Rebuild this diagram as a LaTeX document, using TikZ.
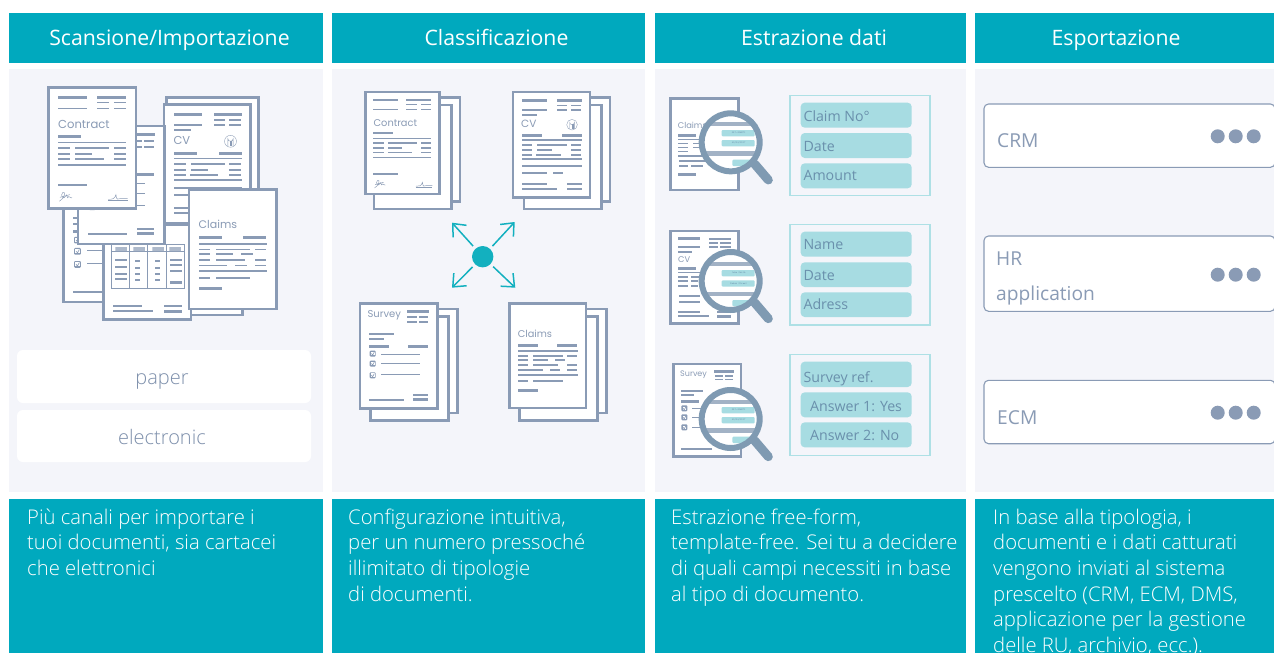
\documentclass[tikz,border=0pt]{standalone}
\usepackage{fontspec}
\setmainfont{Open Sans}
\newfontfamily\lightf{Open Sans Light}
\newfontfamily\gf{Poppins}
\usetikzlibrary{arrows.meta}
\definecolor{teal}{HTML}{00A9BE}
\definecolor{bgc}{HTML}{F4F5FA}
\definecolor{docc}{HTML}{8A9BB5}
\definecolor{hubc}{HTML}{13B0BF}
\definecolor{pill}{HTML}{A7DCE2}
\definecolor{panel}{HTML}{AEE0E5}
\definecolor{pilltx}{HTML}{6A90AC}
\definecolor{lens}{HTML}{7F9AB2}
\definecolor{lensbar}{HTML}{A2B2C5}
\definecolor{boxtx}{HTML}{7D8FAB}
\newcount\tn
\newcommand{\Tx}[4]{\global\advance\tn 1 \node[anchor=west,inner sep=0pt,text=docc,font=\gf\fontsize{#4}{#4}\selectfont] (t\the\tn) at (#1,#2) {#3};}
\newcommand{\lnA}[3]{\fill[docc] (#1,{#3-2.5}) rectangle (#2,{#3+2.5});}
\newcommand{\lnB}[3]{\fill[docc] (#1,{#3-4}) rectangle (#2,{#3+4});}
\newcommand{\lnC}[3]{\fill[docc] (#1,{#3-1.4}) rectangle (#2,{#3+1.4});}
\newcommand{\Sheet}[4]{\filldraw[fill=white,draw=docc,line width=2.4pt] (#1,#2) rectangle (#3,#4);}
\newcommand{\Chk}[2]{\fill[docc,rounded corners=1pt] ({#1-9},{#2-9}) rectangle ({#1+9},{#2+9});
 \fill[white] ({#1-5.5},{#2-5.5}) rectangle ({#1+5.5},{#2+5.5});
 \draw[docc,line width=.6pt] ({#1-4},{#2}) -- ({#1},{#2+4}) -- ({#1+5},{#2-5});}
\tikzset{place/.style n args={5}{shift={(#1,#2)},x=#3pt,y=-#3pt,shift={(-#4,-#5)}}}
% contract: source frame (115,52)-(378,415); arg font size
\newcommand{\ContractDoc}[1]{%
 \Sheet{115}{52}{378}{415}
 \lnB{144}{231}{82}\lnB{261}{348}{82}\lnA{261}{297}{98}\lnA{312}{348}{98}
 \lnA{144}{231}{116}\lnA{261}{297}{116}\lnA{312}{348}{116}
 \Tx{144}{162}{Contract}{#1}
 \lnB{144}{213}{199}\lnA{144}{348}{218}\lnA{144}{180}{234}\lnA{195}{297}{234}\lnA{312}{348}{234}
 \lnA{144}{180}{252}\lnA{195}{246}{252}\lnA{312}{348}{252}
 \lnA{144}{180}{267}\lnA{195}{282}{267}\lnA{312}{348}{267}\lnA{144}{348}{285}\lnA{144}{231}{345}
 \draw[docc,line width=.45pt] (148,394) .. controls (165,385) and (168,362) .. (158,368) .. controls (150,376) and (160,392) .. (168,378) .. controls (172,366) and (170,392) .. (176,380) -- (186,384);
 \draw[docc,line width=.45pt] (150,382) -- (180,374);
 \draw[docc,line width=.45pt] (295,388) .. controls (305,388) and (315,388) .. (318,374) .. controls (320,395) and (325,385) .. (330,386) -- (353,386);
 \draw[docc,line width=.45pt] (295,391) -- (353,391);
}
% CV: source frame (518,35)-(750,352)
\newcommand{\CVDoc}[1]{%
 \Sheet{518}{35}{750}{352}
 \lnB{546}{621}{61}\lnB{651}{726}{61}\lnA{651}{681}{76}\lnA{693}{723}{76}
 \lnA{546}{621}{90}\lnA{651}{681}{90}\lnA{693}{723}{90}\lnA{546}{591}{104}
 \Tx{543}{132}{CV}{#1}
 \draw[docc,line width=.35pt] (696,134) circle (16);
 \draw[docc,line width=.35pt] (689,147) -- (689,127) arc (180:0:7) -- (703,147);
 \draw[docc,line width=.35pt] (695,147) -- (695,133) (698,147) -- (698,133);
 \lnB{546}{606}{166}\lnB{666}{726}{166}\lnA{546}{726}{180}\lnA{546}{576}{195}\lnA{591}{681}{195}\lnA{693}{723}{195}
 \lnA{546}{576}{210}\lnA{591}{636}{210}\lnA{693}{723}{210}\lnA{546}{576}{225}\lnA{588}{663}{225}\lnA{693}{723}{225}
 \lnA{546}{726}{237}\lnA{546}{726}{258}\lnA{546}{621}{278}\lnA{639}{669}{278}
 \lnA{546}{621}{312}\lnA{681}{726}{312}\lnA{546}{651}{326}\lnB{681}{726}{327}
}
% Survey: source frame (60,280)-(292,596)
\newcommand{\SurveyDoc}[1]{%
 \Sheet{60}{280}{292}{596}
 \Tx{82}{316}{Survey}{#1}
 \lnB{201}{267}{304}\lnA{201}{231}{321}\lnA{237}{264}{321}\lnA{201}{231}{336}\lnA{237}{264}{336}
 \lnA{87}{162}{372}\lnA{87}{132}{387}\lnB{87}{147}{409}\lnB{204}{264}{409}
 \Chk{98}{431}\Chk{98}{461}\Chk{98}{496}
 \lnC{123}{240}{433}\lnC{123}{240}{460}\lnC{123}{240}{493}
 \lnA{87}{192}{570}\lnA{219}{264}{555}\lnB{219}{264}{568}
}
% Claims: source frame (508,280)-(738,594)
\newcommand{\ClaimsDoc}[1]{%
 \Sheet{508}{280}{738}{594}
 \Tx{533}{372}{Claims}{#1}
 \lnB{534}{594}{406}\lnB{651}{711}{406}\lnA{534}{714}{423}
 \lnA{534}{564}{438}\lnA{579}{669}{438}\lnA{681}{711}{438}
 \lnA{534}{564}{450}\lnA{579}{624}{450}\lnA{645}{675}{450}
 \lnA{534}{564}{465}\lnA{579}{654}{465}\lnA{681}{711}{465}
 \lnA{534}{609}{480}\lnA{630}{660}{480}\lnA{681}{711}{480}
 \lnA{534}{714}{495}\lnA{534}{564}{513}\lnA{579}{669}{513}\lnB{534}{594}{541}
}
% lens: cx cy y-offset values
\newcommand{\Lens}[9]{%
 % #1 cx #2 cy #3 upper bar #4 lower bar #5 pill1 top #6 pill2 top #7 pill3 top #8 text1 #9 text2
 \draw[lens,line width=9pt,line cap=round] ({#1+72},{#2+65}) -- ({#1+113},{#2+113});
 \begin{scope}
  \clip (#1,#2) circle (87);
  \fill[white] (#1,#2) circle (87);
  \fill[lensbar] ({#1-90},{#3-6.5}) rectangle ({#1+90},{#3+6.5});
  \fill[lensbar] ({#1-90},{#4-6.5}) rectangle ({#1+90},{#4+6.5});
  \fill[pill,rounded corners=1pt] ({#1-27},#5) rectangle ({#1+72},{#5+19});
  \fill[pill,rounded corners=1pt] ({#1-27},#6) rectangle ({#1+72},{#6+19});
  \fill[pill,rounded corners=1pt] ({#1+5},#7) rectangle ({#1+72},{#7+19});
  \global\advance\tn 1 \node[font=\ttfamily\fontsize{2.6}{3}\selectfont,text=pilltx,inner sep=0pt] (t\the\tn) at ({#1+24},{#5+9.5}) {#8};
  \global\advance\tn 1 \node[font=\ttfamily\fontsize{2.6}{3}\selectfont,text=pilltx,inner sep=0pt] (t\the\tn) at ({#1+24},{#6+9.5}) {#9};
 \end{scope}
 \draw[lens,line width=6pt] (#1,#2) circle (87);
}
\tikzset{
 hdrbox/.style={fill=teal,inner sep=0pt,anchor=center,minimum height=50pt},
 hdr/.style={text=white,inner sep=0pt,font=\fontsize{21.25}{24}\selectfont,anchor=base},
 body/.style={text=white,inner sep=0pt,anchor=north west,align=left,font=\lightf\fontsize{20.25}{25.65}\selectfont},
 pilltext/.style={text=pilltx,inner sep=0pt,anchor=base west,font=\fontsize{14.2}{16}\selectfont},
 boxtext/.style={text=boxtx,inner sep=0pt,anchor=base,font=\lightf\fontsize{20}{22}\selectfont},
 systext/.style={text=docc,inner sep=0pt,anchor=base west,font=\fontsize{19.2}{22}\selectfont},
 whitebox/.style={fill=white,rounded corners=6pt},
 sysbox/.style={fill=white,draw=docc,line width=1.1pt,rounded corners=4.5pt},
 panelbox/.style={fill=bgc,draw=panel,line width=1.1pt},
 pillbox/.style={fill=pill,rounded corners=4pt},
 spoke/.style={draw=hubc,line width=1.5pt,-{Straight Barb[length=10.5pt,width=18pt,line width=1.5pt]}},
}
\begin{document}
\begin{tikzpicture}[x=1pt,y=-1pt]
\useasboundingbox (0,0) rectangle (1274,653);
\fill[white] (0,0) rectangle (1274,653);
% column backgrounds
\fill[bgc] (9,69) rectangle (323,492);
\fill[bgc] (332,69) rectangle (645,492);
\fill[bgc] (655,69) rectangle (966,492);
\fill[bgc] (975,69) rectangle (1274,492);
% headers
\node[hdrbox,minimum width=314pt] (h1) at (166,38) {};
\node[hdrbox,minimum width=313pt] (h2) at (488.5,38) {};
\node[hdrbox,minimum width=311pt] (h3) at (810.5,38) {};
\node[hdrbox,minimum width=299pt] (h4) at (1124.5,38) {};
\node[hdr] (h1t) at (169.5,45) {Scansione/Importazione};
\node[hdr] (h2t) at (496.5,45) {Classificazione};
\node[hdr] (h3t) at (814,45) {Estrazione dati};
\node[hdr] (h4t) at (1116,45) {Esportazione};
% bottoms
\fill[teal] (9,499) rectangle (323,653);
\fill[teal] (332,499) rectangle (645,653);
\fill[teal] (655,499) rectangle (966,653);
\fill[teal] (975,499) rectangle (1274,653);
\node[body] (b1) at (27,508.5) {Più canali per importare i\\tuoi documenti, sia cartacei\\che elettronici};
\node[body] (b2) at (348,508.5) {Configurazione intuitiva,\\per un numero pressoché\\illimitato di tipologie\\di documenti.};
\node[body] (b3) at (671,508.5) {Estrazione free-form,\\template-free. Sei tu a decidere\\di quali campi necessiti in base\\al tipo di documento.};
\node[body] (b4) at (993,508.5) {In base alla tipologia, i\\documenti e i dati catturati\\vengono inviati al sistema\\prescelto (CRM, ECM, DMS,\\applicazione per la gestione\\delle RU, archivio, ecc.).};

% ===== column 1
\begin{scope}[place={10}{70}{0.33333}{0}{0}]
 \Sheet{470}{82}{745}{400}
 \Sheet{440}{400}{698}{735}
\end{scope}
\begin{scope}[place={63.3}{183.7}{0.3736}{60}{280}]\SurveyDoc{11}\end{scope}
\begin{scope}[place={10}{70}{0.33333}{0}{0}]
 \Sheet{280}{465}{543}{748}
 \draw[docc,line width=.7pt] (305,523) rectangle (523,655) (357,523) -- (357,655) (412,523) -- (412,655) (470,523) -- (470,655) (305,545) -- (523,545);
 \fill[docc!70] (316,531) rectangle (351,543) (370,531) rectangle (405,543) (427,531) rectangle (462,543) (478,531) rectangle (513,543);
 \lnA{316}{351}{570}\lnA{316}{351}{590}\lnA{316}{351}{612}\lnA{316}{351}{627}
 \lnA{375}{390}{573}\lnA{375}{390}{593}\lnA{375}{390}{612}\lnA{375}{390}{630}
 \lnA{436}{450}{573}\lnA{436}{450}{593}\lnA{436}{450}{612}\lnA{436}{450}{630}
 \lnA{480}{516}{570}\lnA{480}{516}{585}\lnA{480}{516}{603}\lnB{480}{516}{637}
 \lnA{310}{395}{708}\lnA{310}{428}{722}\lnA{462}{516}{708}\lnB{462}{516}{724}
\end{scope}
\begin{scope}[place={164}{104.3}{0.3736}{518}{35}]\CVDoc{11.5}\end{scope}
\begin{scope}[place={78}{126}{0.3736}{60}{280}]\SurveyDoc{11}\end{scope}
\begin{scope}[place={48.3}{87.3}{0.33333}{115}{52}]\ContractDoc{11.6}\end{scope}
\begin{scope}[place={189}{189.3}{0.381}{508}{280}]\ClaimsDoc{11}\end{scope}
\fill[whitebox] (17,350) rectangle (311,403);
\fill[whitebox] (17,410) rectangle (311,462);
\node[boxtext] (paper) at (162,384) {paper};
\node[boxtext] (electronic) at (162,444) {electronic};

% ===== column 2
\begin{scope}[place={340}{80}{0.33333}{0}{0}]
 \Sheet{128}{52}{360}{364}\Sheet{102}{75}{334}{387}
 \Sheet{578}{52}{810}{364}\Sheet{552}{75}{784}{387}
\end{scope}
\begin{scope}[place={365.3}{91.7}{0.2814}{115}{52}]\ContractDoc{9.8}\end{scope}
\begin{scope}[place={512.7}{91.7}{0.33333}{518}{35}]\CVDoc{10.5}\end{scope}
\begin{scope}[place={340}{210}{0.33333}{0}{0}]
 \Sheet{118}{297}{352}{609}\Sheet{92}{320}{326}{631}
 \Sheet{565}{297}{799}{609}\Sheet{539}{320}{772}{631}
\end{scope}
\begin{scope}[place={360}{303.3}{0.33333}{60}{280}]\SurveyDoc{10}\end{scope}
\begin{scope}[place={509.3}{303.3}{0.33333}{508}{280}]\ClaimsDoc{9.8}\end{scope}
\node[circle,fill=hubc,minimum size=21.4pt,inner sep=0pt] (hub) at (482.7,256.7) {};
\coordinate (nw) at (452,222.7);
\coordinate (ne) at (514.7,222);
\coordinate (sw) at (452,287.7);
\coordinate (se) at (515.3,287.7);
\draw[spoke,shorten <=3.5pt] (hub) -- (nw);
\draw[spoke,shorten <=3.5pt] (hub) -- (ne);
\draw[spoke,shorten <=3.5pt] (hub) -- (sw);
\draw[spoke,shorten <=3.5pt] (hub) -- (se);

% ===== column 3, row 1
\begin{scope}[place={660}{85}{0.33333}{0}{0}]
 \Sheet{32}{40}{235}{315}
 \Tx{53}{120}{Claims}{8.3}
 \lnB{54}{107}{151}\lnA{54}{130}{163}\lnA{54}{85}{175}\lnA{100}{130}{175}\lnA{54}{85}{187}\lnA{100}{130}{187}
 \lnA{54}{85}{199}\lnA{54}{130}{213}\lnA{57}{140}{228}\lnA{57}{85}{242}\lnA{93}{130}{242}\lnB{54}{107}{268}
 \Lens{212}{172}{117}{205}{135}{165}{224}{047-32687I}{30/03/2017}
 \draw[panelbox] (390,32) rectangle (810,332);
 \fill[pillbox] (422,53) rectangle (755,128);
 \fill[pillbox] (422,144) rectangle (755,219);
 \fill[pillbox] (422,235) rectangle (755,310);
 \node[pilltext] (a1) at (430,108) {Claim No°};
 \node[pilltext] (a2) at (430,198) {Date};
 \node[pilltext] (a3) at (430,286) {Amount};
\end{scope}
% row 2
\begin{scope}[place={660}{215}{0.33333}{0}{0}]
 \Sheet{32}{48}{235}{325}
 \lnB{54}{120}{71}\lnA{147}{213}{71}\lnA{147}{173}{84}\lnA{180}{213}{84}\lnA{147}{173}{95}\lnA{180}{213}{95}
 \lnA{54}{120}{96}\lnA{54}{96}{110}
 \Tx{54}{133}{CV}{8.3}
 \lnB{54}{108}{160}\lnA{54}{135}{172}\lnA{54}{84}{185}\lnA{93}{120}{185}\lnA{54}{84}{198}\lnA{93}{115}{198}
 \lnA{54}{84}{212}\lnA{93}{115}{212}\lnA{57}{120}{243}\lnA{57}{120}{261}\lnA{54}{120}{291}\lnA{54}{147}{303}
 \lnA{171}{213}{291}\lnB{171}{213}{304}
 \Lens{212}{198}{147}{236}{165}{196}{255}{John Smith}{Baker Street}
 \draw[panelbox] (390,29) rectangle (810,330);
 \fill[pillbox] (422,50) rectangle (755,125);
 \fill[pillbox] (422,142) rectangle (755,216);
 \fill[pillbox] (422,232) rectangle (755,306);
 \node[pilltext] (c1) at (430,102) {Name};
 \node[pilltext] (c2) at (430,195) {Date};
 \node[pilltext] (c3) at (430,282) {Adress};
\end{scope}
% row 3
\begin{scope}[place={660}{345}{0.33333}{0}{0}]
 \Sheet{40}{57}{243}{335}
 \Tx{60}{88}{Survey}{8}
 \lnB{162}{222}{79}\lnA{165}{190}{92}\lnA{195}{219}{92}\lnA{165}{190}{103}\lnA{195}{219}{103}
 \lnA{63}{129}{138}\lnA{63}{102}{150}\lnB{63}{117}{169}
 \Chk{73}{190}\Chk{73}{217}\Chk{73}{247}
 \lnC{97}{130}{190}\lnC{97}{130}{217}\lnC{97}{130}{246}\lnA{63}{156}{312}
 \Lens{212}{222}{170}{256}{186}{216}{275}{047-32687I}{30/03/2017}
 \draw[panelbox] (390,29) rectangle (810,331);
 \fill[pillbox] (422,50) rectangle (755,126);
 \fill[pillbox] (422,142) rectangle (755,217);
 \fill[pillbox] (422,232) rectangle (755,307);
 \node[pilltext] (d1) at (430,112) {Survey ref.};
 \node[pilltext] (d2) at (450,198) {Answer 1: Yes};
 \node[pilltext] (d3) at (450,287) {Answer 2: No};
\end{scope}

% ===== column 4
\filldraw[sysbox] (984,104) rectangle (1275,167.3);
\filldraw[sysbox] (984,236) rectangle (1275,311.3);
\filldraw[sysbox] (984,380.3) rectangle (1275,443.7);
\node[systext] (crm) at (997,147.3) {CRM};
\node[systext] (hr) at (996,265) {HR};
\node[systext] (app) at (996,300) {application};
\node[systext] (ecm) at (997,424) {ECM};
\foreach \yy in {136.3,274.7,412.7}{
 \fill[docc] (1217.7,\yy) circle (7) (1235.7,\yy) circle (7) (1253.7,\yy) circle (7);
}
\end{tikzpicture}
\end{document}
